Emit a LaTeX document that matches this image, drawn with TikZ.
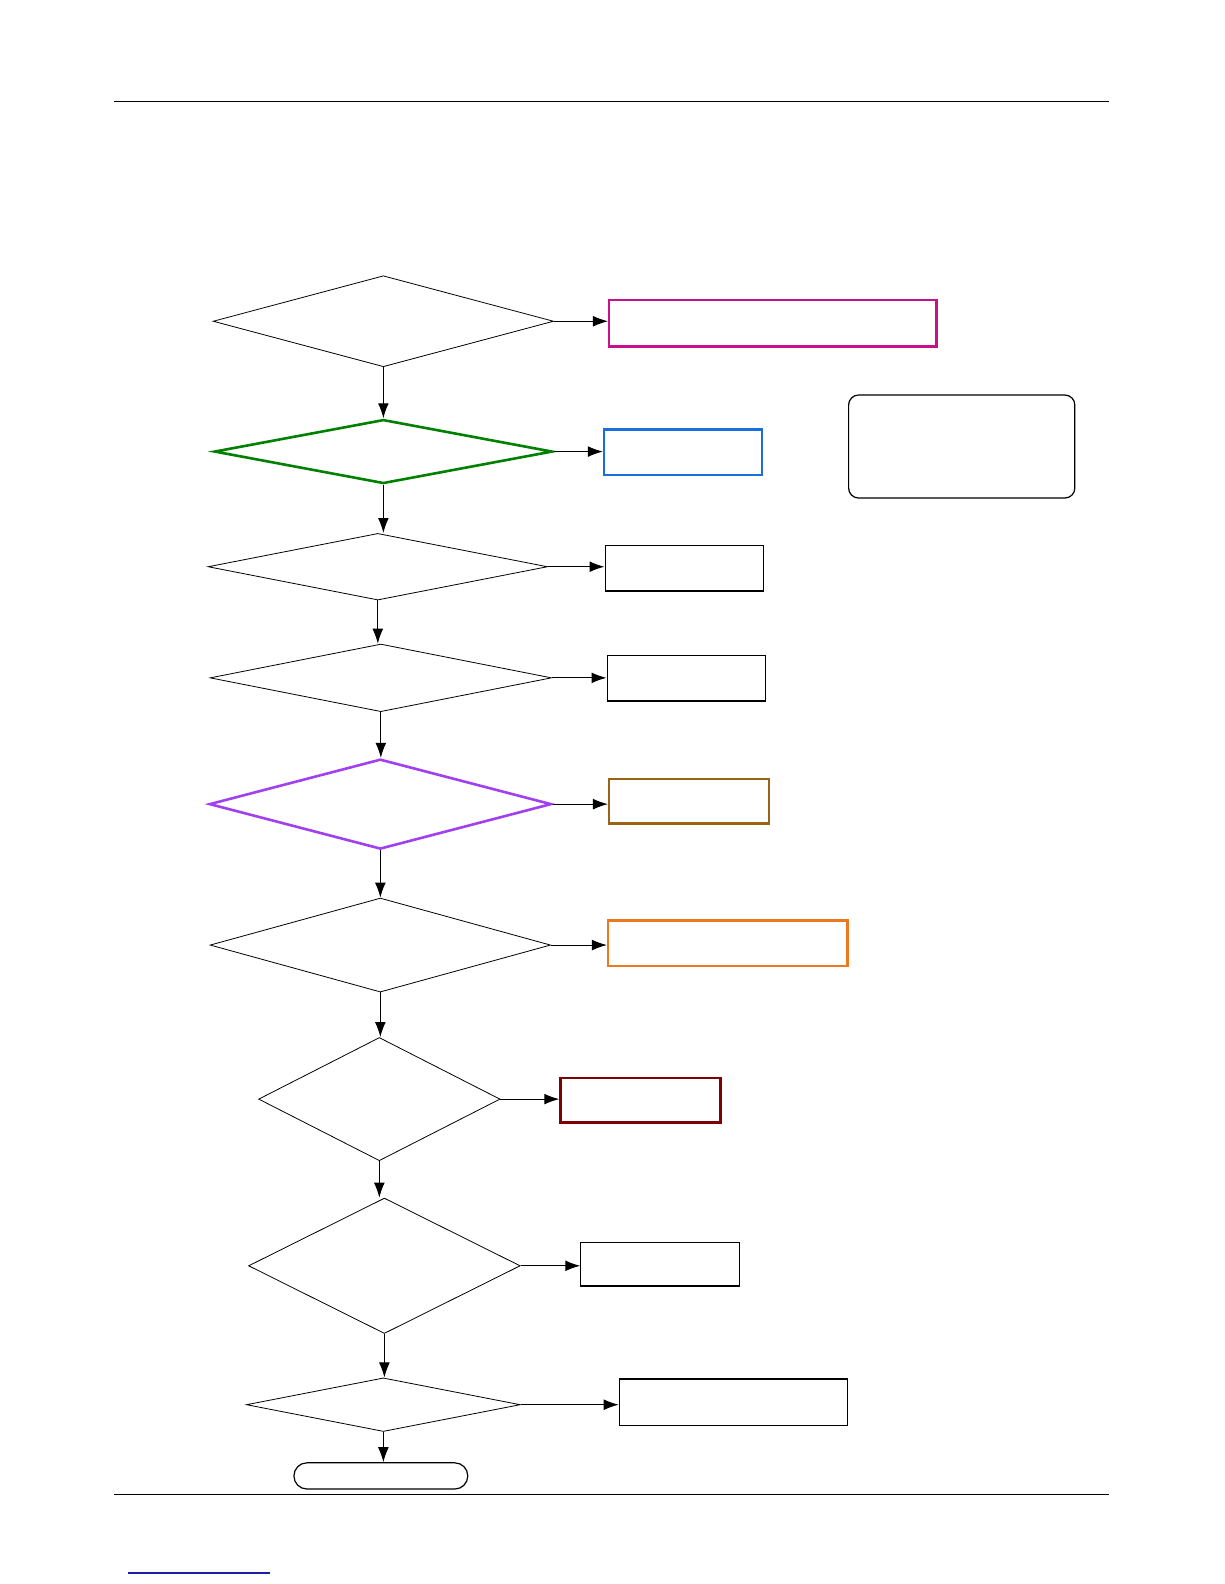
\documentclass[tikz,border=0pt]{standalone}
\usetikzlibrary{shapes.geometric,arrows.meta}

\definecolor{boxmagenta}{RGB}{200,16,140}
\definecolor{boxblue}{RGB}{26,111,224}
\definecolor{decgreen}{RGB}{0,128,0}
\definecolor{decpurple}{RGB}{160,64,240}
\definecolor{boxbrown}{RGB}{153,101,21}
\definecolor{boxorange}{RGB}{236,120,32}
\definecolor{boxred}{RGB}{128,0,0}
\definecolor{linkblue}{RGB}{30,30,160}

\begin{document}
\begin{tikzpicture}[x=0.505pt, y=-0.505pt,
  dec/.style={diamond, draw, line width=0.4pt, inner sep=0pt},
  act/.style={rectangle, draw, line width=0.6pt, inner sep=0pt},
  arr/.style={-{Latex[length=7.5pt,width=5.4pt]}, line width=0.5pt}]

\useasboundingbox (0,0) rectangle (1212,1568);

% page rules
\draw[line width=0.45pt] (113,100) -- (1098,100);
\draw[line width=0.45pt] (113,1479) -- (1098,1479);
\draw[linkblue, line width=0.6pt] (127,1557) -- (267,1557);

% Decisions
\node[dec, minimum width=170.2pt, minimum height=45.5pt] (d1) at (379.5,318) {};
\node[dec, draw=decgreen, line width=1.3pt, minimum width=169pt, minimum height=32pt] (d2) at (379.5,447) {};
\node[dec, minimum width=169.7pt, minimum height=33.3pt] (d3) at (374,561) {};
\node[dec, minimum width=170.7pt, minimum height=33.8pt] (d4) at (377,671) {};
\node[dec, draw=decpurple, line width=1.3pt, minimum width=171pt, minimum height=45pt] (d5) at (376.5,796) {};
\node[dec, minimum width=170.2pt, minimum height=47pt] (d6) at (376.5,935.5) {};
\node[dec, minimum width=120.7pt, minimum height=61.6pt] (d7) at (375.5,1088) {};
\node[dec, minimum width=135.8pt, minimum height=67.7pt] (d8) at (380.5,1253) {};
\node[dec, minimum width=136.9pt, minimum height=26.8pt] (d9) at (379.5,1390.5) {};

% Actions
\node[act, draw=boxmagenta, line width=1.2pt, minimum width=163.6pt, minimum height=23.2pt] (b1) at (765,320) {};
\node[act, draw=boxblue, line width=1.2pt, minimum width=78.8pt, minimum height=22.7pt] (b2) at (676,447.5) {};
\node[act, minimum width=79.3pt, minimum height=22.7pt] (b3) at (677.5,562.5) {};
\node[act, minimum width=79.3pt, minimum height=22.7pt] (b4) at (679.5,671.5) {};
\node[act, draw=boxbrown, line width=1.2pt, minimum width=79.8pt, minimum height=22.2pt] (b5) at (682,793) {};
\node[act, draw=boxorange, line width=1.2pt, minimum width=119.7pt, minimum height=22.7pt] (b6) at (720.5,933.5) {};
\node[act, draw=boxred, line width=1.4pt, minimum width=79.8pt, minimum height=22.2pt] (b7) at (634,1089) {};
\node[act, minimum width=79.3pt, minimum height=21.7pt] (b8) at (653.5,1251.5) {};
\node[act, minimum width=114.1pt, minimum height=23.2pt] (b9) at (726,1388) {};

% note and end
\node[act, rounded corners=5pt, minimum width=113.1pt, minimum height=51.5pt] (note) at (952,442) {};
\node[act, rounded corners=6.5pt, minimum width=86.9pt, minimum height=13.1pt] (done) at (377,1461) {};

% connectors
\foreach \d/\b in {d1/b1,d2/b2,d3/b3,d4/b4,d5/b5,d6/b6,d7/b7,d8/b8,d9/b9}
  \draw[arr] (\d.east) -- (\d.east -| \b.west);
\foreach \a/\c in {d1/d2,d2/d3,d3/d4,d4/d5,d5/d6,d6/d7,d7/d8,d8/d9,d9/done}
  \draw[arr] (\a.south) -- (\a.south |- \c.north);

\end{tikzpicture}
\end{document}
